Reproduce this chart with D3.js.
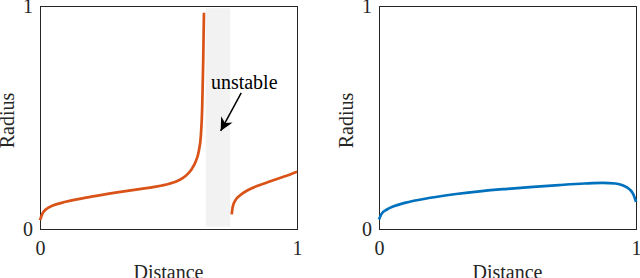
<!DOCTYPE html>
<html>
<head>
<meta charset="utf-8">
<script src="https://cdn.jsdelivr.net/npm/d3@7"></script>
<style>
  html, body { margin: 0; padding: 0; background: #fff; }
  svg { display: block; }
  text { font-family: "Liberation Serif", "Times New Roman", serif; fill: #262626; }
</style>
</head>
<body>
<svg id="chart" width="640" height="278"></svg>
<script>
// ---- data ----
const xTicks = [0, 1];
const yTicks = [0, 1];
const xLabel = "Distance";
const yLabel = "Radius";
const annotationText = "unstable";
const unstableBand = [0.645, 0.74];
const unstableBandY = [0.01, 0.99];

const leftStable1 = [
  [0, 0.04], [0.01, 0.07], [0.025, 0.09], [0.05, 0.105], [0.1, 0.122],
  [0.2, 0.145], [0.3, 0.164], [0.4, 0.181], [0.45, 0.19], [0.5, 0.202],
  [0.53, 0.213], [0.555, 0.228], [0.575, 0.247], [0.59, 0.268], [0.605, 0.3],
  [0.618, 0.35], [0.626, 0.42], [0.631, 0.54], [0.635, 0.75], [0.638, 0.97]
];
const leftStable2 = [
  [0.746, 0.066], [0.75, 0.1], [0.76, 0.128], [0.78, 0.152], [0.81, 0.175],
  [0.85, 0.195], [0.9, 0.215], [0.95, 0.235], [1.0, 0.257]
];
const rightCurve = [
  [0, 0.043], [0.01, 0.068], [0.03, 0.087], [0.06, 0.103], [0.1, 0.117],
  [0.2, 0.14], [0.3, 0.157], [0.4, 0.17], [0.5, 0.18], [0.6, 0.189],
  [0.7, 0.197], [0.8, 0.204], [0.87, 0.207], [0.92, 0.204], [0.95, 0.195],
  [0.975, 0.178], [0.99, 0.155], [1.0, 0.122]
];
// annotation anchor points (data units)
const textAt = [0.665, 0.627];
const arrowFrom = [0.783, 0.61];
const arrowTo = [0.703, 0.44];

// ---- drawing ----
const svg = d3.select("#chart");
const fontSize = 20;
const orange = "#D95319";
const blue = "#0072BD";

svg.append("defs").append("marker")
  .attr("id", "arrowhead")
  .attr("viewBox", "0 0 10 10")
  .attr("refX", 10).attr("refY", 5)
  .attr("markerWidth", 18).attr("markerHeight", 13)
  .attr("markerUnits", "userSpaceOnUse")
  .attr("orient", "auto")
  .append("path").attr("d", "M0,0 L10,5 L0,10 L3,5 Z").attr("fill", "#000");

function panel(left, right, top, bottom, series, labelX) {
  const g = svg.append("g");
  const x = d3.scaleLinear().domain([0, 1]).range([left, right]);
  const y = d3.scaleLinear().domain([0, 1]).range([bottom, top]);

  const line = d3.line().x(d => x(d[0])).y(d => y(d[1])).curve(d3.curveMonotoneX);

  return { g, x, y, line, draw() {
    g.append("rect")
      .attr("x", left + 0.5).attr("y", top + 0.5)
      .attr("width", right - left).attr("height", bottom - top)
      .attr("fill", "none").attr("stroke", "#262626").attr("stroke-width", 1);

    series.forEach(s => {
      g.append("path").datum(s.data).attr("d", line)
        .attr("fill", "none").attr("stroke", s.color)
        .attr("stroke-width", 2.7).attr("stroke-linecap", "butt");
    });

    const ax = g.append("g").attr("transform", `translate(0,${bottom})`)
      .call(d3.axisBottom(x).tickValues(xTicks).tickSize(0).tickPadding(12).tickFormat(d3.format("d")));
    const ay = g.append("g").attr("transform", `translate(${left},0)`)
      .call(d3.axisLeft(y).tickValues(yTicks).tickSize(0).tickPadding(7).tickFormat(d3.format("d")));
    [ax, ay].forEach(a => {
      a.select(".domain").remove();
      a.selectAll("text").attr("font-family", "Liberation Serif").attr("font-size", fontSize).attr("fill", "#262626");
    });

    g.append("text")
      .attr("x", (left + right) / 2).attr("y", 279)
      .attr("text-anchor", "middle").attr("font-size", fontSize)
      .text(xLabel);
    g.append("text")
      .attr("transform", `translate(${labelX},${(top + bottom) / 2 + 3}) rotate(-90)`)
      .attr("text-anchor", "middle").attr("font-size", fontSize)
      .text(yLabel);
  }};
}

// left panel
const L = panel(40, 297, 6, 229, [
  { data: leftStable1, color: orange },
  { data: leftStable2, color: orange }
], 14);
L.g.append("rect")
  .attr("x", L.x(unstableBand[0])).attr("y", L.y(unstableBandY[1]))
  .attr("width", L.x(unstableBand[1]) - L.x(unstableBand[0]))
  .attr("height", L.y(unstableBandY[0]) - L.y(unstableBandY[1]))
  .attr("fill", "#f2f2f2");
L.draw();
L.g.append("text")
  .attr("x", L.x(textAt[0])).attr("y", L.y(textAt[1]))
  .attr("font-size", fontSize)
  .style("fill", "#000")
  .text(annotationText);
L.g.append("line")
  .attr("x1", L.x(arrowFrom[0])).attr("y1", L.y(arrowFrom[1]))
  .attr("x2", L.x(arrowTo[0])).attr("y2", L.y(arrowTo[1]))
  .attr("stroke", "#000").attr("stroke-width", 1.5)
  .attr("marker-end", "url(#arrowhead)");

// right panel
const R = panel(379, 636, 6, 229, [{ data: rightCurve, color: blue }], 353);
R.draw();
</script>
</body>
</html>
